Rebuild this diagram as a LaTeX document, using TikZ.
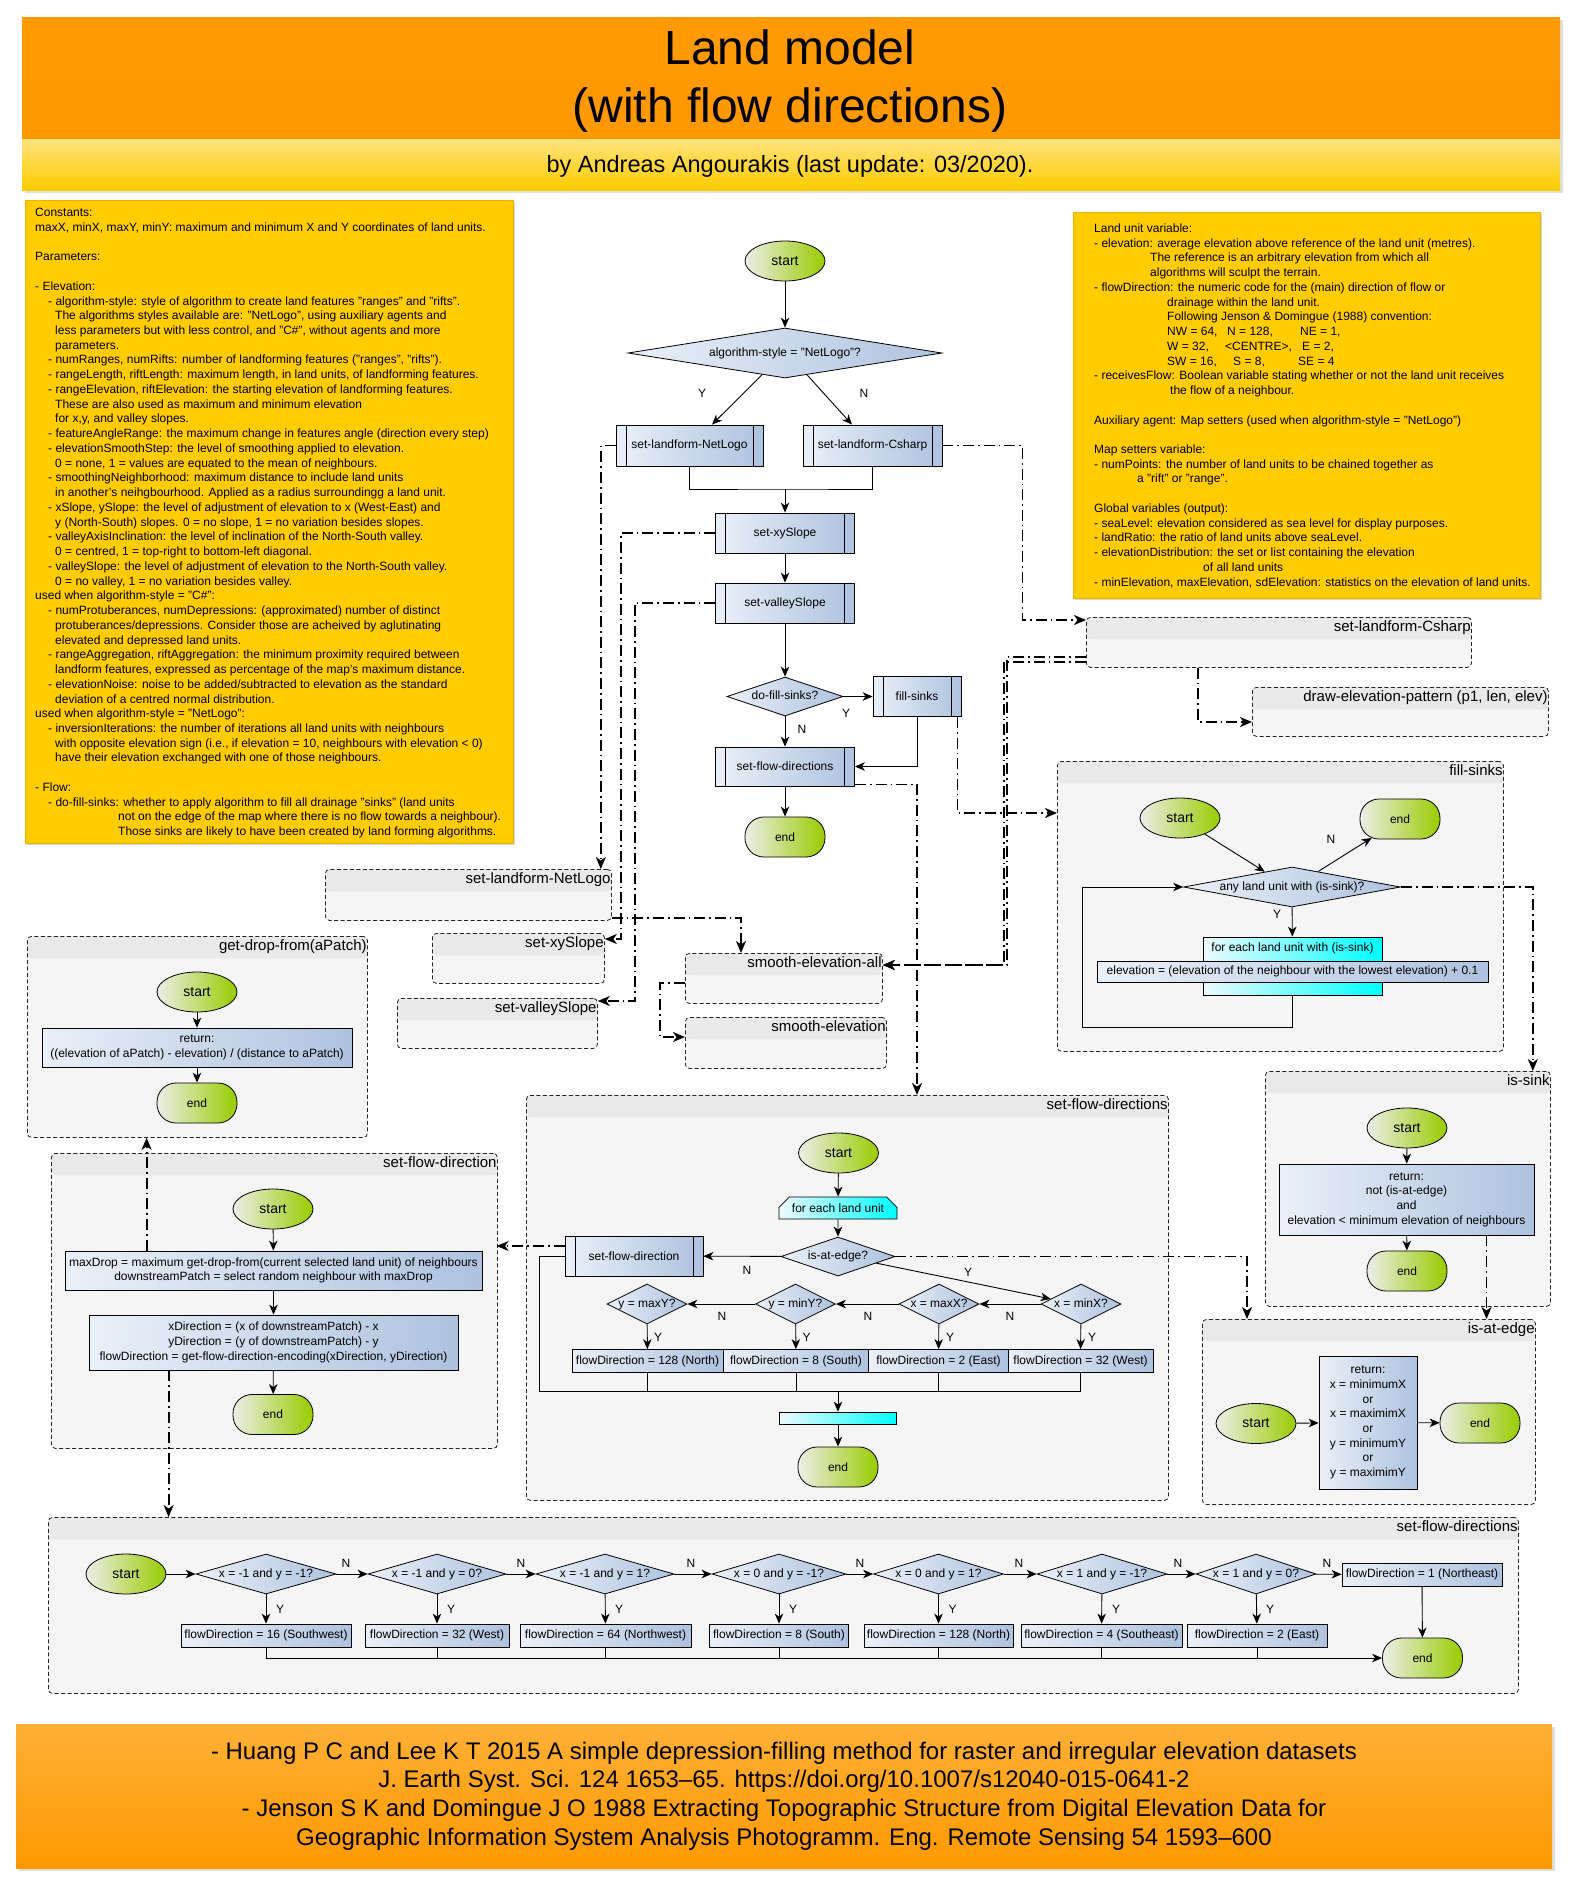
\documentclass[tikz,border=0pt]{standalone}
\usepackage{fontspec}
\setmainfont{Liberation Sans}
\usetikzlibrary{shapes.geometric,shapes.misc,arrows.meta,calc,shadows}

\definecolor{procL}{HTML}{EAF0F8}
\definecolor{procR}{HTML}{AEC2DF}
\definecolor{termL}{HTML}{ECEEE8}
\definecolor{termR}{HTML}{99CC00}
\definecolor{loopL}{HTML}{EEF9FC}
\definecolor{loopR}{HTML}{00FFFF}
\definecolor{noteFill}{HTML}{FFCC00}
\definecolor{noteEdge}{HTML}{E3B400}
\definecolor{bannerOrange}{HTML}{FF9900}
\definecolor{bannerTop}{HTML}{FF9A05}
\definecolor{subTop}{HTML}{FFE27A}
\definecolor{footTop}{HTML}{FFB037}
\definecolor{panelFill}{HTML}{F5F5F5}
\definecolor{panelHead}{HTML}{E9E9E9}
\definecolor{panelEdge}{HTML}{222222}

\newcommand{\nodefont}{\fontsize{12}{14.7}\selectfont}
\newcommand{\panelfont}{\fontsize{15}{18}\selectfont}

\tikzset{
  every node/.style={font=\nodefont},
  proc/.style={draw=black, line width=0.8pt, rectangle, left color=procL, right color=procR, inner sep=2pt, align=center},
  subproc/.style={proc, minimum height=40pt, path picture={
      \draw[line width=0.8pt] ([xshift=10pt]path picture bounding box.north west) -- ([xshift=10pt]path picture bounding box.south west);
      \draw[line width=0.8pt] ([xshift=-10pt]path picture bounding box.north east) -- ([xshift=-10pt]path picture bounding box.south east);}},
  decision/.style={draw=black, line width=0.8pt, diamond, left color=procL, right color=procR, inner sep=0pt, text height=8.5pt, text depth=2pt},
  startnode/.style={draw=black, line width=0.8pt, ellipse, left color=termL, right color=termR, minimum width=80pt, minimum height=40pt, inner sep=0pt, font=\fontsize{14}{16}\selectfont},
  endnode/.style={draw=black, line width=0.8pt, rectangle, rounded corners=19pt, left color=termL, right color=termR, minimum width=80pt, minimum height=40pt, inner sep=0pt},
  loopnode/.style={draw=black, line width=0.8pt, chamfered rectangle, chamfered rectangle xsep=6pt, chamfered rectangle ysep=6pt, left color=loopL, right color=loopR, inner sep=0pt},
  flow/.style={draw=black, line width=0.9pt, -{Stealth[length=10pt, width=8.5pt, inset=3pt]}},
  link/.style={draw=black, line width=0.9pt},
  call/.style={draw=black, line width=1.8pt, dash pattern=on 11pt off 4pt on 1.6pt off 4pt, -{Stealth[length=12pt, width=10pt, inset=3.5pt]}},
  lbl/.style={inner sep=0pt},
  panel/.style={draw=panelEdge, line width=0.8pt, dash pattern=on 4pt off 2.5pt, rounded corners=4pt, fill=panelFill, inner sep=0pt, anchor=north west,
     path picture={\fill[panelHead] (path picture bounding box.north west) rectangle ([yshift=-22pt]path picture bounding box.north east);}},
  paneltitle/.style={anchor=north east, inner sep=0pt, font=\panelfont, xshift=-1pt, yshift=-3pt},
  notebox/.style={draw=noteEdge, line width=0.8pt, fill=noteFill, anchor=north west, inner sep=0pt, drop shadow={shadow xshift=2pt, shadow yshift=-2pt, opacity=0.3}},
  notetext/.style={anchor=north west, align=left, inner sep=0pt, font=\fontsize{12}{14.74}\selectfont},
}

\begin{document}
\begin{tikzpicture}[x=1pt,y=-1pt]
\fill[white] (0,0) rectangle (1575,1881);
\useasboundingbox (0,0) rectangle (1575,1881);

% ---------------- header and byline ----------------
\node[anchor=north west, minimum width=1538pt, minimum height=122pt, inner sep=0pt, top color=bannerTop, bottom color=bannerOrange, drop shadow={opacity=0.25}] (head) at (22,17) {};
\node[anchor=north west, minimum width=1538pt, minimum height=51pt, inner sep=0pt, top color=subTop, bottom color=noteFill, drop shadow={opacity=0.25}] (subhead) at (22,139) {};
\node[font=\fontsize{48}{58}\selectfont, align=center, inner sep=0pt] (title) at (790,81) {Land model\\(with flow directions)};
\node[font=\fontsize{23.5}{28}\selectfont, inner sep=0pt] (byline) at (790,166) {by Andreas Angourakis (last update: 03/2020).};

% ---------------- notes ----------------
\node[notebox, minimum width=488pt, minimum height=643pt] (noteL) at (25,200) {};
\node[notetext] (noteLtext) at (35,208) {%
Constants:\\
maxX, minX, maxY, minY: maximum and minimum X and Y coordinates of land units.\\
~\\
Parameters:\\
~\\
- Elevation:\\
\hspace*{13pt}- algorithm-style: style of algorithm to create land features "ranges" and "rifts".\\
\hspace*{20pt}The algorithms styles available are: "NetLogo", using auxiliary agents and\\
\hspace*{20pt}less parameters but with less control, and "C\#", without agents and more\\
\hspace*{20pt}parameters.\\
\hspace*{13pt}- numRanges, numRifts: number of landforming features ("ranges", "rifts").\\
\hspace*{13pt}- rangeLength, riftLength: maximum length, in land units, of landforming features.\\
\hspace*{13pt}- rangeElevation, riftElevation: the starting elevation of landforming features.\\
\hspace*{20pt}These are also used as maximum and minimum elevation\\
\hspace*{20pt}for x,y, and valley slopes.\\
\hspace*{13pt}- featureAngleRange: the maximum change in features angle (direction every step)\\
\hspace*{13pt}- elevationSmoothStep: the level of smoothing applied to elevation.\\
\hspace*{20pt}0 = none, 1 = values are equated to the mean of neighbours.\\
\hspace*{13pt}- smoothingNeighborhood: maximum distance to include land units\\
\hspace*{20pt}in another's neihgbourhood. Applied as a radius surroundingg a land unit.\\
\hspace*{13pt}- xSlope, ySlope: the level of adjustment of elevation to x (West-East) and\\
\hspace*{20pt}y (North-South) slopes. 0 = no slope, 1 = no variation besides slopes.\\
\hspace*{13pt}- valleyAxisInclination: the level of inclination of the North-South valley.\\
\hspace*{20pt}0 = centred, 1 = top-right to bottom-left diagonal.\\
\hspace*{13pt}- valleySlope: the level of adjustment of elevation to the North-South valley.\\
\hspace*{20pt}0 = no valley, 1 = no variation besides valley.\\
used when algorithm-style = "C\#":\\
\hspace*{13pt}- numProtuberances, numDepressions: (approximated) number of distinct\\
\hspace*{20pt}protuberances/depressions. Consider those are acheived by aglutinating\\
\hspace*{20pt}elevated and depressed land units.\\
\hspace*{13pt}- rangeAggregation, riftAggregation: the minimum proximity required between\\
\hspace*{20pt}landform features, expressed as percentage of the map's maximum distance.\\
\hspace*{13pt}- elevationNoise: noise to be added/subtracted to elevation as the standard\\
\hspace*{20pt}deviation of a centred normal distribution.\\
used when algorithm-style = "NetLogo":\\
\hspace*{13pt}- inversionIterations: the number of iterations all land units with neighbours\\
\hspace*{20pt}with opposite elevation sign (i.e., if elevation = 10, neighbours with elevation < 0)\\
\hspace*{20pt}have their elevation exchanged with one of those neighbours.\\
~\\
- Flow:\\
\hspace*{13pt}- do-fill-sinks: whether to apply algorithm to fill all drainage "sinks" (land units\\
\hspace*{83pt}not on the edge of the map where there is no flow towards a neighbour).\\
\hspace*{83pt}Those sinks are likely to have been created by land forming algorithms.};

\node[notebox, minimum width=467pt, minimum height=386pt] (noteR) at (1073,212) {};
\node[notetext] (noteRtext) at (1094,223.5) {%
Land unit variable:\\
- elevation: average elevation above reference of the land unit (metres).\\
\hspace*{56pt}The reference is an arbitrary elevation from which all\\
\hspace*{56pt}algorithms will sculpt the terrain.\\
- flowDirection: the numeric code for the (main) direction of flow or\\
\hspace*{73pt}drainage within the land unit.\\
\hspace*{73pt}Following Jenson \& Domingue (1988) convention:\\
\hspace*{73pt}\makebox[60pt][l]{NW = 64,}\makebox[73pt][l]{N = 128,}NE = 1,\\
\hspace*{73pt}\makebox[58pt][l]{W = 32,}\makebox[77pt][l]{<CENTRE>,}E = 2,\\
\hspace*{73pt}\makebox[66pt][l]{SW = 16,}\makebox[65pt][l]{S = 8,}SE = 4\\
- receivesFlow: Boolean variable stating whether or not the land unit receives\\
\hspace*{76pt}the flow of a neighbour.\\
~\\
Auxiliary agent: Map setters (used when algorithm-style = "NetLogo")\\
~\\
Map setters variable:\\
- numPoints: the number of land units to be chained together as\\
\hspace*{43pt}a "rift" or "range".\\
~\\
Global variables (output):\\
- seaLevel: elevation considered as sea level for display purposes.\\
- landRatio: the ratio of land units above seaLevel.\\
- elevationDistribution: the set or list containing the elevation\\
\hspace*{109pt}of all land units\\
- minElevation, maxElevation, sdElevation: statistics on the elevation of land units.};

% ---------------- procedure panels ----------------
\node[panel, minimum width=286pt, minimum height=51pt, label={[paneltitle]north east:set-landform-NetLogo}] (pNetLogo) at (325,869) {};
\node[panel, minimum width=172pt, minimum height=50pt, label={[paneltitle]north east:set-xySlope}] (pXY) at (432,933) {};
\node[panel, minimum width=200pt, minimum height=50pt, label={[paneltitle]north east:set-valleySlope}] (pValley) at (397,998) {};
\node[panel, minimum width=197pt, minimum height=50pt, label={[paneltitle]north east:smooth-elevation-all}] (pSmoothAll) at (685,953) {};
\node[panel, minimum width=201pt, minimum height=51pt, label={[paneltitle]north east:smooth-elevation}] (pSmooth) at (685,1017) {};
\node[panel, minimum width=385pt, minimum height=50pt, label={[paneltitle]north east:set-landform-Csharp}] (pCsharp) at (1086,617) {};
\node[panel, minimum width=296pt, minimum height=49pt, label={[paneltitle]north east:draw-elevation-pattern (p1, len, elev)}] (pDraw) at (1252,687) {};
\node[panel, minimum width=446pt, minimum height=290pt, label={[paneltitle]north east:fill-sinks}] (pFill) at (1057,761) {};
\node[panel, minimum width=285pt, minimum height=235pt, label={[paneltitle]north east:is-sink}] (pIsSink) at (1265,1071) {};
\node[panel, minimum width=333pt, minimum height=185pt, label={[paneltitle]north east:is-at-edge}] (pEdge) at (1202,1319) {};
\node[panel, minimum width=642pt, minimum height=405pt, label={[paneltitle]north east:set-flow-directions}] (pFlows) at (526,1095) {};
\node[panel, minimum width=340pt, minimum height=201pt, label={[paneltitle]north east:get-drop-from(aPatch)}] (pDrop) at (27,936) {};
\node[panel, minimum width=446pt, minimum height=295pt, label={[paneltitle]north east:set-flow-direction}] (pFlow) at (51,1153) {};
\node[panel, minimum width=1470pt, minimum height=176pt, label={[paneltitle]north east:set-flow-directions}] (pCodes) at (48,1517) {};

% ---------------- main procedure ----------------
\node[startnode] (mStart) at (785,261) {start};
\node[decision, minimum width=314pt, minimum height=50pt, aspect=6.28] (mAlgo) at (785,353) {algorithm-style = "NetLogo"?};
\node[subproc, minimum width=147pt, minimum height=41pt] (mNet) at (689.5,445.5) {set-landform-NetLogo};
\node[subproc, minimum width=139pt, minimum height=41pt] (mCs) at (872.5,445.5) {set-landform-Csharp};
\coordinate (mJoin) at (785,489);
\node[subproc, minimum width=139pt] (mXY) at (785,533) {set-xySlope};
\node[subproc, minimum width=139pt] (mVal) at (785,603) {set-valleySlope};
\node[decision, minimum width=116pt, minimum height=39pt, aspect=2.97] (mDoFill) at (785,696.5) {do-fill-sinks?};
\node[subproc, minimum width=88pt] (mSinks) at (917,696.5) {fill-sinks};
\node[subproc, minimum width=139pt, minimum height=39pt] (mFlows) at (785,766.5) {set-flow-directions};
\node[endnode] (mEnd) at (785,837) {end};
\node[lbl] (mLblY) at (702,393) {Y};
\node[lbl] (mLblN) at (864,393) {N};
\node[lbl] (mLblY2) at (846,713) {Y};
\node[lbl] (mLblN2) at (802,729) {N};

\draw[flow] (mStart) -- (mAlgo);
\draw[flow] ($(mAlgo.south)!0.146!(mAlgo.west)$) -- ([xshift=22.5pt]mNet.north);
\draw[flow] ($(mAlgo.south)!0.14!(mAlgo.east)$) -- ([xshift=-20.5pt]mCs.north);
\draw[link] (mNet.south) |- (mJoin) -| (mCs.south);
\draw[flow] (mJoin) -- (mXY);
\draw[flow] (mXY) -- (mVal);
\draw[flow] (mVal) -- (mDoFill);
\draw[flow] (mDoFill) -- (mSinks);
\draw[flow] (mDoFill) -- (mFlows);
\draw[flow] (mSinks.south) |- (mFlows.east);
\draw[flow] (mFlows) -- (mEnd);

% ---------------- fill-sinks ----------------
\node[startnode] (fsStart) at (1180,818) {start};
\node[endnode] (fsEnd) at (1400,819) {end};
\node[decision, minimum width=217pt, minimum height=40pt, aspect=5.4] (fsAny) at (1292,887) {any land unit with (is-sink)?};
\node[loopnode, minimum width=179pt, minimum height=58pt, chamfered rectangle corners={north west,north east,south west,south east}, label={[anchor=north, inner sep=0pt, yshift=-6pt]north:for each land unit with (is-sink)}] (fsLoop) at (1292.5,966) {};
\node[proc, minimum width=391pt, minimum height=21pt, inner sep=1pt] (fsSet) at (1292.5,971.5) {elevation = (elevation of the neighbour with the lowest elevation) + 0.1};
\node[lbl] (fsLblN) at (1331,839) {N};
\node[lbl] (fsLblY) at (1277,914) {Y};
\draw[flow] (fsStart.-33) -- ($(fsAny.west)!0.75!(fsAny.north)$);
\draw[flow] ($(fsAny.north)!0.24!(fsAny.east)$) -- ([xshift=12pt,yshift=1.5pt]fsEnd.south west);
\draw[flow] (fsAny) -- (fsLoop);
\draw[flow] (fsLoop.south) -- ++(0,32) -| ($(fsAny.west)+(-101,0)$) -- (fsAny.west);

% ---------------- is-sink ----------------
\node[startnode] (isStart) at (1407,1128) {start};
\node[proc, minimum width=255pt, minimum height=71pt] (isRet) at (1406.5,1199.5) {return:\\not (is-at-edge)\\and\\elevation < minimum elevation of neighbours};
\node[endnode] (isEnd) at (1407,1271) {end};
\draw[flow] (isStart) -- (isRet);
\draw[flow] (isRet) -- (isEnd);

% ---------------- is-at-edge ----------------
\node[startnode] (ieStart) at (1256,1423.5) {start};
\node[proc, minimum width=98pt, minimum height=133pt] (ieRet) at (1368,1422.5) {return:\\x = minimumX\\or\\x = maximimX\\or\\y = minimumY\\or\\y = maximimY};
\node[endnode] (ieEnd) at (1480,1423) {end};
\draw[flow] (ieStart) -- (ieRet);
\draw[flow] (ieRet) -- (ieEnd);

% ---------------- set-flow-directions ----------------
\node[startnode] (sfStart) at (838.5,1153) {start};
\node[loopnode, chamfered rectangle corners={north west,north east}, minimum width=118pt, minimum height=22pt] (sfLoop) at (838,1208) {for each land unit};
\node[decision, minimum width=114pt, minimum height=39pt, aspect=2.92] (sfEdge) at (838,1256.5) {is-at-edge?};
\node[subproc, minimum width=138pt, minimum height=40pt] (sfSub) at (634,1256) {set-flow-direction};
\node[decision, minimum width=80pt, minimum height=40pt, aspect=2] (sfMaxY) at (647,1304) {y = maxY?};
\node[decision, minimum width=80pt, minimum height=40pt, aspect=2] (sfMinY) at (795.5,1304) {y = minY?};
\node[decision, minimum width=80pt, minimum height=40pt, aspect=2] (sfMaxX) at (939,1304) {x = maxX?};
\node[decision, minimum width=80pt, minimum height=40pt, aspect=2] (sfMinX) at (1081,1304) {x = minX?};
\node[proc, minimum width=151pt, minimum height=23pt] (sfNorth) at (647.5,1361) {flowDirection = 128 (North)};
\node[proc, minimum width=146pt, minimum height=23pt] (sfSouth) at (796,1361) {flowDirection = 8 (South)};
\node[proc, minimum width=140pt, minimum height=23pt] (sfEast) at (938.5,1361) {flowDirection = 2 (East)};
\node[proc, minimum width=145pt, minimum height=23pt] (sfWest) at (1080.5,1361) {flowDirection = 32 (West)};
\coordinate (sfJoin) at (838,1391);
\coordinate (sfJoinL) at (539,1391);
\node[loopnode, chamfered rectangle corners={south west,south east}, minimum width=117pt, minimum height=12pt] (sfLoopEnd) at (838,1418) {};
\node[endnode] (sfEnd) at (838,1467) {end};
\node[lbl] (sfLblN0) at (747,1270) {N};
\node[lbl] (sfLblY0) at (968,1272) {Y};
\node[lbl] (sfLblN1) at (1010,1316) {N};
\node[lbl] (sfLblN2) at (868,1316) {N};
\node[lbl] (sfLblN3) at (722,1316) {N};
\node[lbl] (sfLblY1) at (658,1337) {Y};
\node[lbl] (sfLblY2) at (806.5,1337) {Y};
\node[lbl] (sfLblY3) at (950,1337) {Y};
\node[lbl] (sfLblY4) at (1092,1337) {Y};

\draw[flow] (sfStart) -- (sfLoop);
\draw[flow] (sfLoop) -- (sfEdge);
\draw[flow] (sfEdge) -- (sfSub);
\draw[flow] ($(sfEdge.south)!0.667!(sfEdge.east)$) -- ($(sfMinX.west)!0.25!(sfMinX.north)$);
\draw[flow] (sfMinX) -- (sfMaxX);
\draw[flow] (sfMaxX) -- (sfMinY);
\draw[flow] (sfMinY) -- (sfMaxY);
\draw[flow] (sfMaxY) -- (sfNorth);
\draw[flow] (sfMinY) -- (sfSouth);
\draw[flow] (sfMaxX) -- (sfEast);
\draw[flow] (sfMinX) -- (sfWest);
\draw[link] (sfSub.west) -| (sfJoinL) -| (sfWest.south);
\draw[link] (sfNorth.south) -- (sfNorth.south |- sfJoin);
\draw[link] (sfSouth.south) -- (sfSouth.south |- sfJoin);
\draw[link] (sfEast.south) -- (sfEast.south |- sfJoin);
\draw[flow] (sfJoin) -- (sfLoopEnd);
\draw[flow] (sfLoopEnd) -- (sfEnd);

% ---------------- get-drop-from ----------------
\node[startnode] (gdStart) at (197,992) {start};
\node[proc, minimum width=310pt, minimum height=39pt] (gdRet) at (197,1047.5) {return:\\((elevation of aPatch) - elevation) / (distance to aPatch)};
\node[endnode] (gdEnd) at (197,1103) {end};
\draw[flow] (gdStart) -- (gdRet);
\draw[flow] (gdRet) -- (gdEnd);

% ---------------- set-flow-direction ----------------
\node[startnode] (fdStart) at (273,1209) {start};
\node[proc, minimum width=417pt, minimum height=39pt] (fdMax) at (273.5,1270.5) {maxDrop = maximum get-drop-from(current selected land unit) of neighbours\\downstreamPatch = select random neighbour with maxDrop};
\node[proc, minimum width=369pt, minimum height=55pt] (fdDir) at (273.5,1342.5) {xDirection = (x of downstreamPatch) - x\\yDirection = (y of downstreamPatch) - y\\flowDirection = get-flow-direction-encoding(xDirection, yDirection)};
\node[endnode] (fdEnd) at (273,1414.5) {end};
\draw[flow] (fdStart) -- (fdMax);
\draw[flow] (fdMax) -- (fdDir);
\draw[flow] (fdDir) -- (fdEnd);

% ---------------- flow direction encoding ----------------
\node[startnode] (bcStart) at (126,1574) {start};
\node[decision, minimum width=140pt, minimum height=40pt, aspect=3.5] (bcD1) at (266,1574) {x = -1 and y = -1?};
\node[decision, minimum width=138pt, minimum height=40pt, aspect=3.45] (bcD2) at (437,1574) {x = -1 and y = 0?};
\node[decision, minimum width=138pt, minimum height=40pt, aspect=3.45] (bcD3) at (605,1574) {x = -1 and y = 1?};
\node[decision, minimum width=134pt, minimum height=40pt, aspect=3.35] (bcD4) at (779,1574) {x = 0 and y = -1?};
\node[decision, minimum width=130pt, minimum height=40pt, aspect=3.25] (bcD5) at (938.5,1574) {x = 0 and y = 1?};
\node[decision, minimum width=130pt, minimum height=40pt, aspect=3.25] (bcD6) at (1102,1574) {x = 1 and y = -1?};
\node[decision, minimum width=120pt, minimum height=40pt, aspect=3] (bcD7) at (1256,1574) {x = 1 and y = 0?};
\node[proc, minimum width=170pt, minimum height=23pt] (bcP1) at (266,1635.5) {flowDirection = 16 (Southwest)};
\node[proc, minimum width=144pt, minimum height=23pt] (bcP2) at (437,1635.5) {flowDirection = 32 (West)};
\node[proc, minimum width=171pt, minimum height=23pt] (bcP3) at (605.5,1635.5) {flowDirection = 64 (Northwest)};
\node[proc, minimum width=139pt, minimum height=23pt] (bcP4) at (779,1635.5) {flowDirection = 8 (South)};
\node[proc, minimum width=149pt, minimum height=23pt] (bcP5) at (938.5,1635.5) {flowDirection = 128 (North)};
\node[proc, minimum width=161pt, minimum height=23pt] (bcP6) at (1101.5,1635.5) {flowDirection = 4 (Southeast)};
\node[proc, minimum width=140pt, minimum height=23pt] (bcP7) at (1257,1635.5) {flowDirection = 2 (East)};
\node[proc, minimum width=160pt, minimum height=23pt] (bcP8) at (1422,1574.5) {flowDirection = 1 (Northeast)};
\node[endnode] (bcEnd) at (1422.5,1658) {end};
\node[lbl] (bcN1) at (346,1563) {N};
\node[lbl] (bcN2) at (521,1563) {N};
\node[lbl] (bcN3) at (691,1563) {N};
\node[lbl] (bcN4) at (860,1563) {N};
\node[lbl] (bcN5) at (1019,1563) {N};
\node[lbl] (bcN6) at (1178,1563) {N};
\node[lbl] (bcN7) at (1327,1563) {N};
\foreach \k/\xx in {1/266,2/437,3/605,4/779,5/938.5,6/1102,7/1256}{
  \node[lbl] (bcY\k) at (\xx+14,1609) {Y};
  \draw[flow] (bcD\k) -- (bcP\k);
}
\draw[flow] (bcStart) -- (bcD1);
\draw[flow] (bcD1) -- (bcD2);
\draw[flow] (bcD2) -- (bcD3);
\draw[flow] (bcD3) -- (bcD4);
\draw[flow] (bcD4) -- (bcD5);
\draw[flow] (bcD5) -- (bcD6);
\draw[flow] (bcD6) -- (bcD7);
\draw[flow] (bcD7) -- (bcP8);
\draw[flow] (bcP8) -- (bcEnd);
\draw[flow] (bcP1.south) |- (bcEnd.west);
\foreach \k in {2,...,7}{
  \draw[link] (bcP\k.south) -- (bcP\k.south |- bcEnd.west);
}

% ---------------- calls between procedures ----------------
\draw[call] (mNet.west) -| ([xshift=-11pt]pNetLogo.north east);
\draw[call] (mXY.west) -- ++(-94,0) |- ([yshift=-6pt]pXY.north east);
\draw[call] (mVal.west) -- ++(-80,0) |- ([yshift=-3pt]pValley.north east);
\draw[call] ([yshift=3pt]pNetLogo.south east) -| ([xshift=56pt]pSmoothAll.north west);
\draw[call] ([yshift=-30pt]pSmoothAll.north west) -- ++(-25,0) |- ([yshift=-20pt]pSmooth.north west);
\draw[call] ([yshift=-40pt]pCsharp.north west) -- ++(-79,0) |- ([yshift=-12pt]pSmoothAll.north east);
\draw[call] ([yshift=-45pt]pCsharp.north west) -- ++(-82,0) |- ([yshift=-12pt]pSmoothAll.north east);
\draw[call] (mCs.east) -- ++(80,0) |- ([yshift=-3pt]pCsharp.north west);
\draw[call] ([xshift=112pt]pCsharp.south west) |- ([yshift=-35pt]pDraw.north west);
\draw[call] ([xshift=-4pt]mSinks.south east) |- ([yshift=-52pt]pFill.north west);
\draw[call] ([yshift=2pt]mFlows.south east) -| ([xshift=391pt]pFlows.north west);
\draw[call] (fsAny.east) -| ([xshift=-18pt]pIsSink.north east);
\draw[call] (sfEdge.east) -| ([xshift=45pt]pEdge.north west);
\coordinate (isRetFoot) at ([xshift=80pt]isRet.south);
\draw[call] (isRetFoot) -- (isRetFoot |- pEdge.north);
\draw[call] ([yshift=10pt]sfSub.west) -- ++(-68,0);
\coordinate (fdMaxTop) at ([xshift=82pt]fdMax.north west);
\draw[call] (fdMaxTop) -- (fdMaxTop |- pDrop.south);
\coordinate (fdDirFoot) at ([xshift=80pt]fdDir.south west);
\draw[call] (fdDirFoot) -- (fdDirFoot |- pCodes.north);

% ---------------- references ----------------
\node[anchor=north west, minimum width=1536pt, minimum height=144pt, inner sep=0pt, top color=footTop, bottom color=bannerOrange, drop shadow={opacity=0.25}] (foot) at (16,1724) {};
\node[font=\fontsize{24}{28.7}\selectfont, align=center, inner sep=0pt] (footText) at (784,1796) {%
- Huang P C and Lee K T 2015 A simple depression-filling method for raster and irregular elevation datasets\\
J. Earth Syst. Sci. 124 1653--65. https://doi.org/10.1007/s12040-015-0641-2\\
- Jenson S K and Domingue J O 1988 Extracting Topographic Structure from Digital Elevation Data for\\
Geographic Information System Analysis Photogramm. Eng. Remote Sensing 54 1593--600};
\end{tikzpicture}
\end{document}
